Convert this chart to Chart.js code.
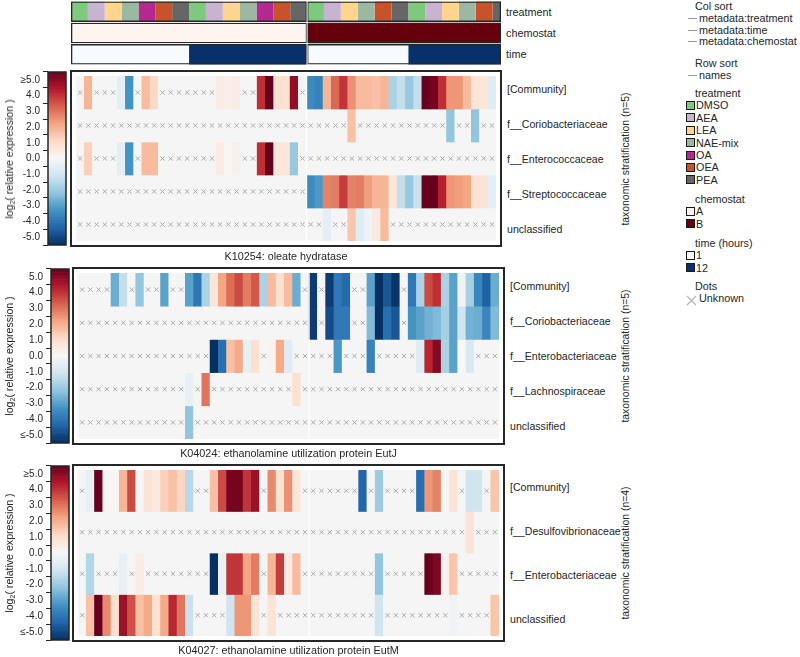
<!DOCTYPE html>
<html>
<head>
<meta charset="utf-8">
<script src="https://cdn.jsdelivr.net/npm/chart.js@4.4.1/dist/chart.umd.min.js"></script>
<style>
  html, body { margin: 0; padding: 0; background: #fff; }
  body { position: relative; width: 800px; height: 657px; overflow: hidden;
         font-family: "Liberation Sans", Arial, Helvetica, sans-serif; color: #262626; }
  canvas { position: absolute; }
  .txt { position: absolute; white-space: nowrap; line-height: 1; }
  .frame { position: absolute; border: 2px solid #262626; box-sizing: border-box; pointer-events: none; }
  .sw { position: absolute; width: 7px; height: 7px; border: 1px solid #1a1a1a; }
  .dash { position: absolute; width: 9px; height: 1px; background: #9a9a9a; }
</style>
</head>
<body>
<script>
var _ = null;

// ---- column metadata (51 samples) ----
var colTreatment = [
  'DMSO','DMSO','AEA','AEA','LEA','LEA','NAE-mix','NAE-mix','OA','OA','OEA','OEA','PEA','PEA',
  'DMSO','DMSO','AEA','AEA','LEA','LEA','NAE-mix','NAE-mix','OA','OA','OEA','OEA','PEA','PEA',
  'DMSO','DMSO','AEA','AEA','LEA','LEA','NAE-mix','NAE-mix','OEA','OEA','PEA','PEA',
  'DMSO','DMSO','AEA','AEA','LEA','LEA','NAE-mix','NAE-mix','OEA','OEA','PEA'
];
var colChemostat = [
  'A','A','A','A','A','A','A','A','A','A','A','A','A','A',
  'A','A','A','A','A','A','A','A','A','A','A','A','A','A',
  'B','B','B','B','B','B','B','B','B','B','B','B',
  'B','B','B','B','B','B','B','B','B','B','B'
];
var colTime = [
  1,1,1,1,1,1,1,1,1,1,1,1,1,1,
  12,12,12,12,12,12,12,12,12,12,12,12,12,12,
  1,1,1,1,1,1,1,1,1,1,1,1,
  12,12,12,12,12,12,12,12,12,12,12
];

var treatmentNames = ['DMSO', 'AEA', 'LEA', 'NAE-mix', 'OA', 'OEA', 'PEA'];
var chemostatNames = ['A', 'B'];
var timeNames = [1, 12];

// ---- K10254: oleate hydratase ----
var k10254Rows = ['[Community]', 'f__Coriobacteriaceae', 'f__Enterococcaceae', 'f__Streptococcaceae', 'unclassified'];
var k10254Community = [_,1.7,_,_,_,-0.5,-3.0,_,1.6,1.0, _,_,_,_,_,_,_,0.4,0.3,0.4, _,_,3.7,5.0,0.8,0.8,4.4,_,
  -3.2,-3.4,1.7,2.9,3.6,2.3,1.6,1.6,1.5,1.7, -1.6,-1.2,-1.9,-1.2,5.0,4.8,3.7,2.2,2.2,1.6,0.7,0.6,-0.6];
var k10254Corio = [_,_,_,_,_,_,_,_,_,_, _,_,_,_,_,_,_,_,_,_, _,_,_,_,_,_,_,_,
  _,_,_,_,_,1.5,_,_,_,_, _,_,_,_,_,_,_,-2.0,_,_,-2.0,_,_];
var k10254Entero = [_,1.2,_,_,_,-0.5,-3.0,_,1.6,1.6, _,_,_,_,_,_,_,0.4,0.05,0.3, _,_,3.7,5.0,0.6,0.6,-1.9,_,
  _,_,_,_,_,_,_,_,_,_, _,_,_,_,_,_,_,_,_,_,_,_,_];
var k10254Strep = [_,_,_,_,_,_,_,_,_,_, _,_,_,_,_,_,_,_,_,_, _,_,_,_,_,_,_,_,
  -3.2,-2.9,2.5,2.6,3.5,2.5,2.6,2.1,1.7,1.7, 0.6,-1.2,-1.9,-1.1,5.0,5.0,3.9,2.2,2.1,2.0,0.8,0.7,-0.5];
var k10254Uncl = [_,_,_,_,_,_,_,_,_,_, _,_,_,_,_,_,_,_,_,_, _,_,_,_,_,_,_,_,
  _,_,-0.5,_,_,1.4,-0.6,-0.3,0.5,1.6, _,_,_,_,_,_,_,_,_,_,_,_,_];

// ---- K04024: ethanolamine utilization protein EutJ ----
var k04024Rows = ['[Community]', 'f__Coriobacteriaceae', 'f__Enterobacteriaceae', 'f__Lachnospiraceae', 'unclassified'];
var k04024Community = [_,_,_,_,-2.5,-1.2,_,-2.0,_,_, -2.7,_,_,-2.7,-3.6,-1.6,0.6,2.0,2.8,3.3, 2.6,3.1,-1.6,1.6,0.8,1.6,-2.5,_,
  -4.8,_,-4.8,-3.6,-3.9,_,_,-2.7,-5.0,-4.3, -4.9,_,-3.6,-1.6,3.3,3.7,-1.6,-2.7,-0.2,-1.7,-3.3,-4.1,-2.5];
var k04024Corio = [_,_,_,_,_,_,_,_,_,_, _,_,_,_,_,_,_,_,_,_, _,_,_,_,_,_,_,_,
  -4.8,_,-4.5,-3.6,-3.6,_,_,-2.2,-5.0,-3.8, -4.3,_,-3.0,-2.7,-2.4,-2.2,-1.7,-2.7,-1.0,-2.4,-2.5,-3.3,-2.2];
var k04024Entero = [_,_,_,_,_,_,_,_,_,_, _,_,_,_,_,_,-5.0,-3.8,1.5,1.9, -0.4,0.8,_,0.15,1.9,-0.6,_,_,
  _,_,_,-2.9,_,_,_,-3.4,_,_, _,_,_,-0.6,3.8,4.6,-1.6,-2.7,0.0,-0.8,_,_,_];
var k04024Lachno = [_,_,_,_,_,_,_,_,_,_, _,_,_,-0.4,_,2.7,_,_,_,_, _,_,_,_,_,_,0.8,_,
  _,_,_,_,_,_,_,_,_,_, _,_,_,_,_,_,_,_,_,_,_,_,_];
var k04024Uncl = [_,_,_,_,_,_,_,_,_,_, _,_,_,-2.0,_,_,_,_,_,_, _,_,_,_,_,_,_,_,
  _,_,_,_,_,_,_,_,_,_, _,_,_,_,_,_,_,_,_,_,_,_,_];

// ---- K04027: ethanolamine utilization protein EutM ----
var k04027Rows = ['[Community]', 'f__Desulfovibrionaceae', 'f__Enterobacteriaceae', 'unclassified'];
var k04027Community = [_,-0.4,5.0,0.05,0.05,1.7,3.3,0.05,0.7,0.5, 1.2,1.5,1.1,-1.4,_,_,1.5,3.3,4.8,4.8, 3.6,4.3,_,2.4,0.8,2.3,0.6,_,
  _,_,_,_,_,_,-4.0,_,-1.8,_, _,_,_,-3.8,2.2,2.5,0.05,0.7,_,-1.0,-1.0,_,1.4];
var k04027Desulfo = [_,_,_,_,_,_,_,_,_,_, _,_,_,_,_,_,_,_,_,_, _,_,_,_,_,_,_,_,
  _,_,_,_,_,_,_,_,_,_, _,_,_,_,_,_,_,_,_,0.7,_,_,_];
var k04027Entero = [_,-1.5,_,_,_,-0.4,_,0.4,_,_, _,_,_,_,_,_,-5.0,-0.4,3.6,3.6, 2.0,2.6,_,1.7,3.5,0.5,1.6,_,
  _,_,_,_,_,_,_,_,-2.0,_, _,_,_,_,5.0,4.7,0.2,1.4,_,_,_,_,_];
var k04027Uncl = [_,1.5,5.0,2.4,0.8,4.3,3.2,1.5,1.9,0.8, 1.9,3.8,2.7,-1.1,_,_,_,_,-1.0,2.2, 2.2,0.7,_,0.7,_,_,_,_,
  _,_,_,_,_,_,_,_,-1.0,_, _,_,_,_,_,_,_,-0.2,_,_,_,_,1.4];

// ---- styles ----
var treatmentColors = ['#7fc97f', '#c8b4d0', '#fdd58c', '#9bb8a3', '#b5288f', '#c8522b', '#666666'];
var chemostatColors = ['#fff5f0', '#67000d'];
var timeColors = ['#f7fbff', '#08306b'];
var RDBU_R = ['#053061', '#2166ac', '#4393c3', '#92c5de', '#d1e5f0', '#f7f7f7',
              '#fddbc7', '#f4a582', '#d6604d', '#b2182b', '#67001f'];
var NAN_COLOR = '#f5f5f5';
var CROSS_COLOR = '#ababab';
var INK = '#262626';

var panels = [
  { title: 'K10254: oleate hydratase', rows: k10254Rows,
    values: [k10254Community, k10254Corio, k10254Entero, k10254Strep, k10254Uncl],
    strat: 'taxonomic stratification (n=5)', topTick: '≥5.0', bottomTick: '-5.0' },
  { title: 'K04024: ethanolamine utilization protein EutJ', rows: k04024Rows,
    values: [k04024Community, k04024Corio, k04024Entero, k04024Lachno, k04024Uncl],
    strat: 'taxonomic stratification (n=5)', topTick: '5.0', bottomTick: '≤-5.0' },
  { title: 'K04027: ethanolamine utilization protein EutM', rows: k04027Rows,
    values: [k04027Community, k04027Desulfo, k04027Entero, k04027Uncl],
    strat: 'taxonomic stratification (n=4)', topTick: '≥5.0', bottomTick: '≤-5.0' }
];
var panelBoxes = [
  { x: 71, y: 71,  w: 430, h: 175, cbX: 48, titleY: 256 },
  { x: 73, y: 268, w: 431, h: 176, cbX: 51, titleY: 453 },
  { x: 73, y: 465, w: 431, h: 176, cbX: 51, titleY: 650 }
];

Chart.defaults.font.family = '"Liberation Sans", Arial, Helvetica, sans-serif';
Chart.defaults.font.size = 10;
Chart.defaults.color = INK;
Chart.defaults.animation = false;

var nCols = colTreatment.length;
var splitAt = colChemostat.indexOf('B');
var colLabels = colTreatment.map(function (t, i) {
  return colChemostat[i] + ' ' + colTime[i] + 'h ' + t + ' #' + i;
});

function hexRgb(h) {
  return [parseInt(h.substr(1, 2), 16), parseInt(h.substr(3, 2), 16), parseInt(h.substr(5, 2), 16)];
}

function rdbu(v) {
  var t = Math.max(-5, Math.min(5, v)) + 5;
  var i = Math.min(9, Math.floor(t));
  var f = t - i;
  var a = hexRgb(RDBU_R[i]), b = hexRgb(RDBU_R[i + 1]);
  return 'rgb(' + [0, 1, 2].map(function (k) { return Math.round(a[k] + (b[k] - a[k]) * f); }).join(',') + ')';
}

function makeCanvas(x, y, w, h) {
  var c = document.createElement('canvas');
  c.width = w;
  c.height = h;
  c.style.left = x + 'px';
  c.style.top = y + 'px';
  c.style.width = w + 'px';
  c.style.height = h + 'px';
  document.body.appendChild(c);
  return c;
}

function addText(html, x, y, opt) {
  opt = opt || {};
  var d = document.createElement('div');
  d.className = 'txt';
  d.innerHTML = html;
  d.style.left = x + 'px';
  d.style.top = y + 'px';
  d.style.fontSize = (opt.size || 10.6) + 'px';
  if (opt.color) d.style.color = opt.color;
  if (opt.rotate) {
    d.style.transform = 'translate(-50%,-50%) rotate(-90deg)';
  } else if (opt.center) {
    d.style.transform = 'translate(-50%,-50%)';
  } else {
    d.style.transform = 'translateY(-50%)';
  }
  document.body.appendChild(d);
  return d;
}

function addFrame(x, y, w, h) {
  var d = document.createElement('div');
  d.className = 'frame';
  d.style.left = (x - 1) + 'px';
  d.style.top = (y - 1) + 'px';
  d.style.width = (w + 2) + 'px';
  d.style.height = (h + 2) + 'px';
  document.body.appendChild(d);
}

// white gap between chemostat A and B
function splitLinePlugin(width) {
  return {
    id: 'splitLine',
    afterDatasetsDraw: function (chart) {
      var xs = chart.scales.x, a = chart.chartArea, ctx = chart.ctx;
      var px = chart.options.indexAxis === 'y'
        ? xs.getPixelForValue(splitAt - 0.5)
        : (xs.getPixelForValue(splitAt - 1) + xs.getPixelForValue(splitAt)) / 2;
      ctx.save();
      ctx.strokeStyle = '#ffffff';
      ctx.lineWidth = width;
      ctx.beginPath();
      ctx.moveTo(px, a.top);
      ctx.lineTo(px, a.bottom);
      ctx.stroke();
      ctx.restore();
    }
  };
}

var areaBorder = {
  id: 'areaBorder',
  afterDraw: function (chart) {
    var a = chart.chartArea, ctx = chart.ctx;
    ctx.save();
    ctx.strokeStyle = INK;
    ctx.lineWidth = 1.5;
    ctx.strokeRect(a.left, a.top, a.right - a.left, a.bottom - a.top);
    ctx.restore();
  }
};

// ---- treatment / chemostat / time strips ----
function drawAnnotation() {
  var strips = [
    { name: 'treatment', values: colTreatment, color: function (v) { return treatmentColors[treatmentNames.indexOf(v)]; } },
    { name: 'chemostat', values: colChemostat, color: function (v) { return chemostatColors[chemostatNames.indexOf(v)]; } },
    { name: 'time', values: colTime, color: function (v) { return timeColors[timeNames.indexOf(v)]; } }
  ];
  var datasets = [];
  strips.forEach(function (s, r) {
    var start = 0;
    for (var c = 1; c <= nCols; c++) {
      if (c === nCols || s.values[c] !== s.values[start] || colChemostat[c] !== colChemostat[start]) {
        var data = strips.map(function () { return null; });
        data[r] = [start - 0.5, c - 0.5];
        datasets.push({
          data: data, backgroundColor: s.color(s.values[start]), borderWidth: 0,
          grouped: false, categoryPercentage: 1, barPercentage: 0.96, order: 2
        });
        start = c;
      }
    }
  });
  [[-0.5, splitAt - 0.5], [splitAt - 0.5, nCols - 0.5]].forEach(function (block) {
    datasets.push({
      data: strips.map(function () { return block; }),
      backgroundColor: 'rgba(0,0,0,0)', borderColor: INK, borderWidth: 1.3, borderSkipped: false,
      inflateAmount: 0, grouped: false, categoryPercentage: 1, barPercentage: 0.96, order: 1
    });
  });

  var box = panelBoxes[0];
  var canvas = makeCanvas(box.x, 1, box.w, 64);
  new Chart(canvas, {
    type: 'bar',
    data: { labels: strips.map(function (s) { return s.name; }), datasets: datasets },
    options: {
      indexAxis: 'y', responsive: false, animation: false,
      layout: { padding: 0 },
      plugins: { legend: { display: false }, tooltip: { enabled: false } },
      scales: {
        x: { type: 'linear', min: -0.5, max: nCols - 0.5, display: false },
        y: { type: 'category', display: false }
      }
    },
    plugins: [splitLinePlugin(1)]
  });
  strips.forEach(function (s, r) {
    addText(s.name, 506, 1 + 64 / 3 * (r + 0.5), { size: 10.8 });
  });
}

// ---- one heatmap panel ----
function drawPanel(p, box) {
  var nRows = p.rows.length;
  var datasets = [];
  p.values.forEach(function (vals, r) {
    datasets.push({
      type: 'bar',
      data: vals.map(function () { return [r, r + 1]; }),
      backgroundColor: vals.map(function (v) { return v === null ? NAN_COLOR : rdbu(v); }),
      borderWidth: 0, grouped: false, categoryPercentage: 1, barPercentage: 1, order: 2
    });
  });
  var crosses = [];
  p.values.forEach(function (vals, r) {
    vals.forEach(function (v, c) {
      if (v === null) crosses.push({ x: colLabels[c], y: r + 0.5 });
    });
  });
  datasets.push({
    type: 'scatter', data: crosses, pointStyle: 'crossRot', pointRadius: 3,
    borderColor: CROSS_COLOR, backgroundColor: CROSS_COLOR, borderWidth: 1, order: 1
  });

  var canvas = makeCanvas(box.x, box.y, box.w, box.h);
  new Chart(canvas, {
    type: 'bar',
    data: { labels: colLabels, datasets: datasets },
    options: {
      responsive: false, animation: false,
      layout: { padding: 0 },
      plugins: { legend: { display: false }, tooltip: { enabled: false } },
      scales: {
        x: { type: 'category', offset: true, display: false },
        y: { type: 'linear', min: 0, max: nRows, reverse: true, display: false }
      }
    },
    plugins: [splitLinePlugin(1.2)]
  });
  addFrame(box.x, box.y, box.w, box.h);

  var rowH = box.h / nRows;
  p.rows.forEach(function (name, r) {
    addText(name, box.x + box.w + 6, box.y + rowH * (r + 0.5), { size: 10.6 });
  });
  addText(p.strat, 626, box.y + box.h / 2, { size: 10.4, rotate: true });
  addText(p.title, box.x + box.w / 2, box.titleY, { size: 10.8, center: true });
}

// ---- colour bar for a panel ----
function drawColorbar(p, box) {
  var bins = [];
  for (var i = 0; i < 100; i++) bins.push(5 - (i + 0.5) * 0.1);
  var axisW = 34, cbW = 18, pad = 8;
  var canvas = makeCanvas(box.cbX - axisW, box.y - pad, axisW + cbW + 1, box.h + pad * 2);
  new Chart(canvas, {
    type: 'bar',
    data: {
      labels: bins.map(function (b) { return b.toFixed(2); }),
      datasets: [{
        data: bins.map(function () { return 1; }),
        backgroundColor: bins.map(rdbu),
        borderWidth: 0, categoryPercentage: 1, barPercentage: 1
      }]
    },
    options: {
      indexAxis: 'y', responsive: false, animation: false,
      layout: { padding: { top: pad, bottom: pad, left: 0, right: 1 } },
      plugins: { legend: { display: false }, tooltip: { enabled: false } },
      scales: {
        x: { type: 'linear', min: 0, max: 1, display: false },
        y: { type: 'category', display: false },
        cb: {
          type: 'linear', axis: 'y', position: 'left', min: -5, max: 5,
          afterFit: function (scale) { scale.width = axisW; },
          border: { display: false },
          grid: { display: true, drawOnChartArea: false, drawTicks: true, tickLength: 5, color: INK, lineWidth: 1 },
          ticks: {
            stepSize: 1, padding: 3, color: INK, font: { size: 10 },
            callback: function (v) {
              if (v === 5) return p.topTick;
              if (v === -5) return p.bottomTick;
              return v.toFixed(1);
            }
          }
        }
      }
    },
    plugins: [areaBorder]
  });
  addText('log<sub style="font-size:7px;vertical-align:-2px">2</sub>( relative expression )',
          10, box.y + box.h / 2, { size: 10.6, rotate: true });
}

// ---- legend on the right ----
function drawLegend() {
  var lx = 695, y;
  addText('Col sort', lx, 6, { size: 10.8 });
  ['metadata:treatment', 'metadata:time', 'metadata:chemostat'].forEach(function (t, i) {
    y = 18 + i * 11.5;
    var d = document.createElement('div'); d.className = 'dash';
    d.style.left = '688px'; d.style.top = Math.round(y) + 'px'; document.body.appendChild(d);
    addText(t, 699, y, { size: 10.8 });
  });
  addText('Row sort', lx, 63, { size: 10.8 });
  var d2 = document.createElement('div'); d2.className = 'dash';
  d2.style.left = '688px'; d2.style.top = '75px'; document.body.appendChild(d2);
  addText('names', 699, 75, { size: 10.8 });

  function swatches(title, names, colors, y0) {
    addText(title, lx, y0, { size: 10.8 });
    names.forEach(function (n, i) {
      var yy = y0 + 12.4 * (i + 1);
      var s = document.createElement('div'); s.className = 'sw';
      s.style.left = '686px'; s.style.top = (yy - 4.5) + 'px'; s.style.background = colors[i];
      document.body.appendChild(s);
      addText(String(n), lx + 1, yy, { size: 10.8 });
    });
  }
  swatches('treatment', treatmentNames, treatmentColors, 93);
  swatches('chemostat', chemostatNames, chemostatColors, 199);
  swatches('time (hours)', timeNames, timeColors, 243);
  addText('Dots', lx, 286, { size: 10.8 });
  var x = document.createElement('div');
  x.style.position = 'absolute'; x.style.left = '686px'; x.style.top = '292px';
  x.innerHTML = '<svg width="11" height="11"><path d="M1 1 L10 10 M10 1 L1 10" stroke="#b4b4b4" stroke-width="1.2"/></svg>';
  document.body.appendChild(x);
  addText('Unknown', 699, 297.5, { size: 10.8 });
}

drawAnnotation();
panels.forEach(function (p, i) {
  drawPanel(p, panelBoxes[i]);
  drawColorbar(p, panelBoxes[i]);
});
drawLegend();
</script>
</body>
</html>
